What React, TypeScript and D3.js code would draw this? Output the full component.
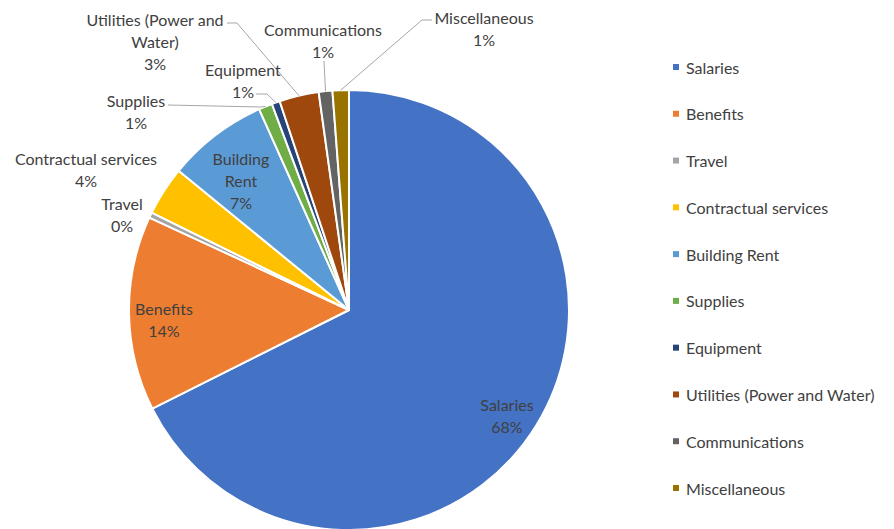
import React from "react";
import * as d3 from "d3";

const categories = [
  "Salaries",
  "Benefits",
  "Travel",
  "Contractual services",
  "Building Rent",
  "Supplies",
  "Equipment",
  "Utilities (Power and Water)",
  "Communications",
  "Miscellaneous",
];
const values = [67.6, 14.3, 0.4, 3.6, 7.4, 1.0, 0.6, 2.9, 1.0, 1.2];
const colors = [
  "#4472C4",
  "#ED7D31",
  "#A5A5A5",
  "#FFC000",
  "#5B9BD5",
  "#70AD47",
  "#264478",
  "#9E480E",
  "#636363",
  "#997300",
];

type LabelLayout = {
  lines: string[];
  x: number;
  y: number;
  leader?: [number, number][];
};
const labelLayout: Record<string, LabelLayout> = {
  Salaries: { lines: ["Salaries"], x: 507, y: 404 },
  Benefits: { lines: ["Benefits"], x: 164, y: 308 },
  Travel: { lines: ["Travel"], x: 122, y: 203 },
  "Contractual services": { lines: ["Contractual services"], x: 86, y: 158 },
  "Building Rent": { lines: ["Building", "Rent"], x: 241, y: 158 },
  Supplies: { lines: ["Supplies"], x: 136, y: 100, leader: [[168, 105], [260, 107]] },
  Equipment: { lines: ["Equipment"], x: 243, y: 69, leader: [[256, 94], [267, 94]] },
  "Utilities (Power and Water)": {
    lines: ["Utilities (Power and", "Water)"],
    x: 155,
    y: 19,
    leader: [[227, 23], [237, 23]],
  },
  Communications: { lines: ["Communications"], x: 323, y: 29, leader: [[324, 61], [324, 62]] },
  Miscellaneous: { lines: ["Miscellaneous"], x: 484, y: 17, leader: [[432, 20], [422, 20]] },
};

const W = 894;
const H = 529;
const cx = 349;
const cy = 310;
const R = 220;
const FONT = "Lato, 'Open Sans', sans-serif";
const TEXT = "#404040";
const LINE_H = 21.8;
const FS = 16;

export default function App() {
  const total = d3.sum(values);
  const data = categories.map((c, i) => ({ name: c, value: values[i], color: colors[i] }));
  const pie = d3
    .pie<{ name: string; value: number; color: string }>()
    .value((d) => d.value)
    .sort(null)
    .startAngle(0)
    .endAngle(Math.PI * 2);
  const arcs = pie(data);
  const arcGen = d3.arc<d3.PieArcDatum<any>>().innerRadius(0).outerRadius(R);
  const edge = d3.arc<d3.PieArcDatum<any>>().innerRadius(R).outerRadius(R);

  const legendY = d3.scalePoint<string>().domain(categories).range([67, 488]);

  return (
    <svg
      width={W}
      height={H}
      style={{ position: "absolute", left: 0, top: 0, background: "#fff" }}
      fontFamily={FONT}
    >
      <g transform={`translate(${cx},${cy})`}>
        {arcs.map((a) => (
          <path key={a.data.name} d={arcGen(a) || ""} fill={a.data.color} stroke="#fff" strokeWidth={2} strokeLinejoin="round" />
        ))}
      </g>
      {arcs.map((a) => {
        const L = labelLayout[a.data.name];
        if (!L.leader) return null;
        const [ex, ey] = edge.centroid(a);
        const pts: [number, number][] = [...L.leader, [ex + cx, ey + cy]];
        return (
          <path
            key={"l" + a.data.name}
            d={d3.line()(pts) || ""}
            fill="none"
            stroke="#A6A6A6"
            strokeWidth={1}
          />
        );
      })}
      {arcs.map((a) => {
        const L = labelLayout[a.data.name];
        const pct = Math.round((a.data.value / total) * 100) + "%";
        const lines = [...L.lines, pct];
        return (
          <text
            key={"t" + a.data.name}
            x={L.x}
            y={L.y}
            textAnchor="middle"
            fontSize={FS}
            fill={TEXT}
            dominantBaseline="central"
          >
            {lines.map((ln, j) => (
              <tspan key={j} x={L.x} y={L.y + j * LINE_H}>
                {ln}
              </tspan>
            ))}
          </text>
        );
      })}
      {data.map((d) => {
        const y = legendY(d.name) as number;
        return (
          <g key={"lg" + d.name}>
            <rect x={673} y={y - 3} width={6} height={6} fill={d.color} />
            <text x={686} y={y} dominantBaseline="central" fontSize={FS} fill={TEXT}>
              {d.name}
            </text>
          </g>
        );
      })}
    </svg>
  );
}
